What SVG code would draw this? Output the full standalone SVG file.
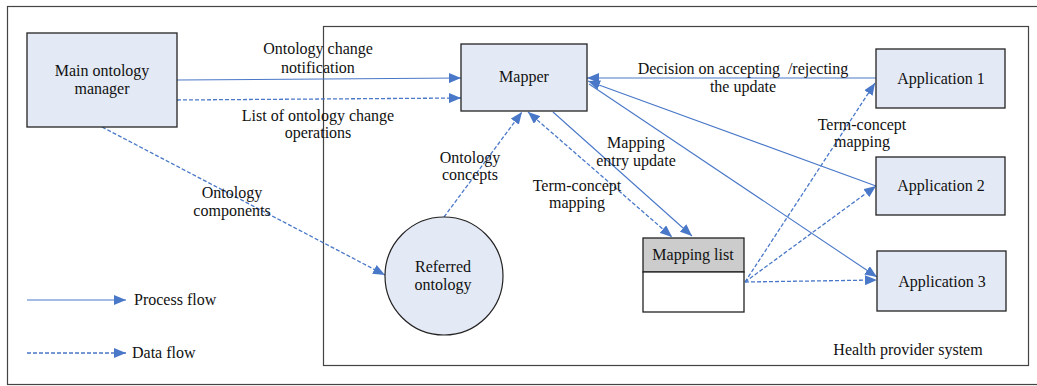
<svg xmlns="http://www.w3.org/2000/svg" width="1037" height="386" viewBox="0 0 1037 386">
<style>
text{font-family:"Liberation Serif","Times New Roman",serif;font-size:16px;fill:#111;text-anchor:middle}
.box{fill:#E4EAF5;stroke:#222;stroke-width:1.3}
.frame{fill:none;stroke:#444;stroke-width:1.2}
.solid{fill:none;stroke:#4A78C8;stroke-width:1.1}
.dash{fill:none;stroke:#4A78C8;stroke-width:1.3;stroke-dasharray:4 2}
.arr{marker-end:url(#ah)}
</style>
<defs>
<marker id="ah" markerUnits="userSpaceOnUse" markerWidth="13" markerHeight="10" viewBox="0 0 13 10" refX="12" refY="5" orient="auto-start-reverse">
<path d="M0,0 L12,5 L0,10 z" fill="#4A78C8"/>
</marker>
</defs>
<g id="frames">
<rect class="frame" x="7.5" y="6.5" width="1040" height="378"/>
<rect class="frame" x="323.5" y="26.5" width="705" height="339"/>
<text x="908" y="355">Health provider system</text>
</g>
<g id="connectors">
<line class="solid arr" x1="177" y1="80" x2="461" y2="78"/>
<line class="dash arr" x1="177" y1="100" x2="461" y2="98"/>
<line class="dash arr" x1="102" y1="127" x2="385" y2="275"/>
<line class="dash arr" x1="444" y1="217" x2="522" y2="112"/>
<line class="dash arr" x1="528" y1="112" x2="672" y2="237" style="marker-start:url(#ah)"/>
<line class="solid arr" x1="553" y1="112" x2="692" y2="236"/>
<line class="solid arr" x1="876" y1="78" x2="587" y2="78"/>
<line class="solid arr" x1="876" y1="186" x2="588" y2="81"/>
<line class="solid arr" x1="589" y1="84" x2="877" y2="277"/>
<line class="dash arr" x1="745" y1="282" x2="875" y2="83"/>
<line class="dash arr" x1="745" y1="282" x2="876" y2="186"/>
<line class="dash arr" x1="745" y1="282" x2="877" y2="280"/>
<text x="318" y="54">Ontology change</text>
<text x="318" y="73">notification</text>
<text x="318" y="121">List of ontology change</text>
<text x="318" y="138">operations</text>
<text x="232" y="198">Ontology</text>
<text x="232" y="216">components</text>
<text x="470" y="163">Ontology</text>
<text x="470" y="180">concepts</text>
<text x="743" y="74" style="white-space:pre">Decision on accepting  /rejecting</text>
<text x="743" y="92">the update</text>
<text x="636" y="148">Mapping</text>
<text x="636" y="166">entry update</text>
<text x="577" y="191">Term-concept</text>
<text x="577" y="208">mapping</text>
<text x="862" y="130">Term-concept</text>
<text x="862" y="147">mapping</text>
</g>
<g id="main-ontology-manager">
<rect class="box" x="27" y="33" width="150" height="94"/>
<text x="102" y="76">Main ontology</text>
<text x="102" y="94">manager</text>
</g>
<g id="mapper">
<rect class="box" x="461" y="44" width="126" height="67"/>
<text x="524" y="82">Mapper</text>
</g>
<g id="application-1">
<rect class="box" x="876" y="49" width="129" height="59"/>
<text x="941" y="84">Application 1</text>
</g>
<g id="application-2">
<rect class="box" x="876" y="157" width="129" height="58"/>
<text x="941" y="191">Application 2</text>
</g>
<g id="application-3">
<rect class="box" x="877" y="251" width="129" height="60"/>
<text x="942" y="287">Application 3</text>
</g>
<g id="mapping-list">
<rect x="643" y="238" width="101" height="34" fill="#CCCCCC" stroke="#222" stroke-width="1.3"/>
<rect x="643" y="272" width="101" height="40" fill="#FFFFFF" stroke="#222" stroke-width="1.3"/>
<text x="693" y="260">Mapping list</text>
</g>
<g id="referred-ontology">
<circle cx="444" cy="276" r="59" fill="#E4EAF5" stroke="#222" stroke-width="1.2"/>
<text x="443" y="272">Referred</text>
<text x="443" y="290">ontology</text>
</g>
<g id="legend">
<line class="solid arr" x1="27" y1="300" x2="126" y2="300"/>
<text x="134" y="305" style="text-anchor:start">Process flow</text>
<line class="dash arr" x1="27" y1="353" x2="126" y2="353"/>
<text x="132" y="358" style="text-anchor:start">Data flow</text>
</g>
</svg>
